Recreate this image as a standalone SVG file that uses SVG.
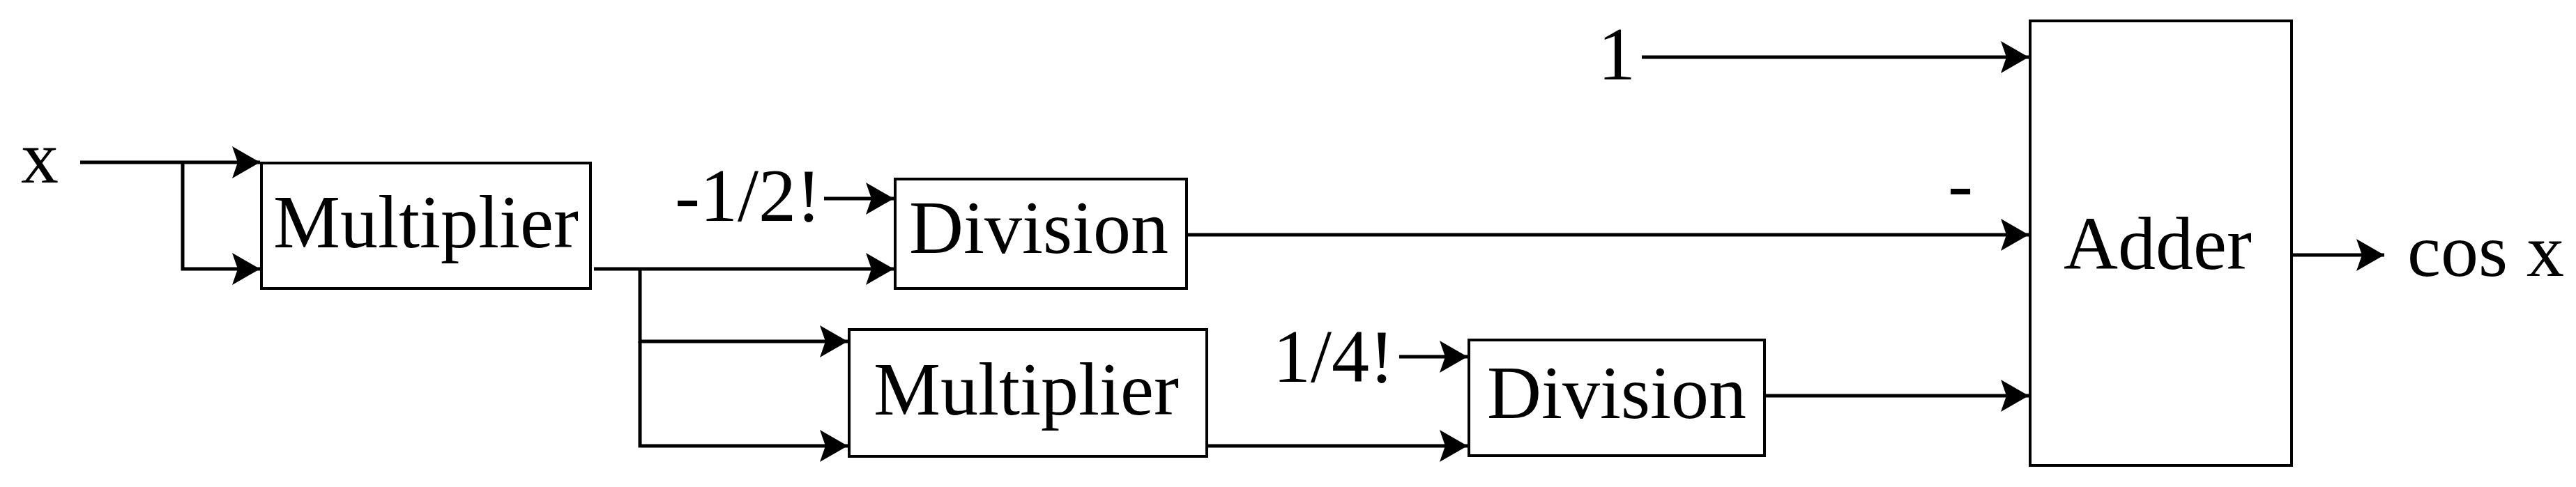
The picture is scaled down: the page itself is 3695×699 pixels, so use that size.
<svg xmlns="http://www.w3.org/2000/svg" width="3695" height="699" viewBox="0 0 3695 699">
<style>
.box{fill:#fff;stroke:#000;stroke-width:4}
.ln{fill:none;stroke:#000;stroke-width:5}
.ar{marker-end:url(#ah)}
text{font-family:"Liberation Serif","Times New Roman",serif;font-size:108px;fill:#000}
</style>
<defs>
<marker id="ah" markerUnits="userSpaceOnUse" markerWidth="44" markerHeight="46" refX="40" refY="23" orient="auto" viewBox="0 0 44 46">
<path d="M0,0 L40,23 L0,46 L8,23 Z" fill="#000"/>
</marker>
</defs>
<rect width="3695" height="699" fill="#fff"/>
<g id="connectors">
<path class="ln ar" d="M115,233 H373"/>
<path class="ln ar" d="M262,233 V386 H373"/>
<path class="ln ar" d="M852,386 H1282"/>
<path class="ln ar" d="M918,386 V490 H1216"/>
<path class="ln ar" d="M918,490 V640 H1216"/>
<path class="ln ar" d="M1182,285 H1282"/>
<path class="ln ar" d="M1702,337 H2910"/>
<path class="ln ar" d="M1731,640 H2105"/>
<path class="ln ar" d="M2007,512 H2105"/>
<path class="ln ar" d="M2531,568 H2910"/>
<path class="ln ar" d="M2355,82 H2910"/>
<path class="ln ar" d="M3287,366 H3420"/>
</g>
<g id="labels">
<text x="30" y="262">x</text>
<text x="968" y="317">-1/2!</text>
<text x="1826" y="548">1/4!</text>
<text x="2292" y="114">1</text>
<text x="2794" y="300">-</text>
<text x="3453" y="396">cos x</text>
</g>
<g id="mult1"><rect class="box" x="375" y="234" width="472" height="180"/><text x="611" y="355" text-anchor="middle">Multiplier</text></g>
<g id="div1"><rect class="box" x="1284" y="257" width="418" height="157"/><text x="1490" y="363" text-anchor="middle">Division</text></g>
<g id="mult2"><rect class="box" x="1218" y="473" width="513" height="182"/><text x="1472" y="595" text-anchor="middle">Multiplier</text></g>
<g id="div2"><rect class="box" x="2107" y="488" width="424" height="166"/><text x="2319" y="600" text-anchor="middle">Division</text></g>
<g id="adder"><rect class="box" x="2912" y="30" width="375" height="638"/><text x="3095" y="386" text-anchor="middle">Adder</text></g>
</svg>
